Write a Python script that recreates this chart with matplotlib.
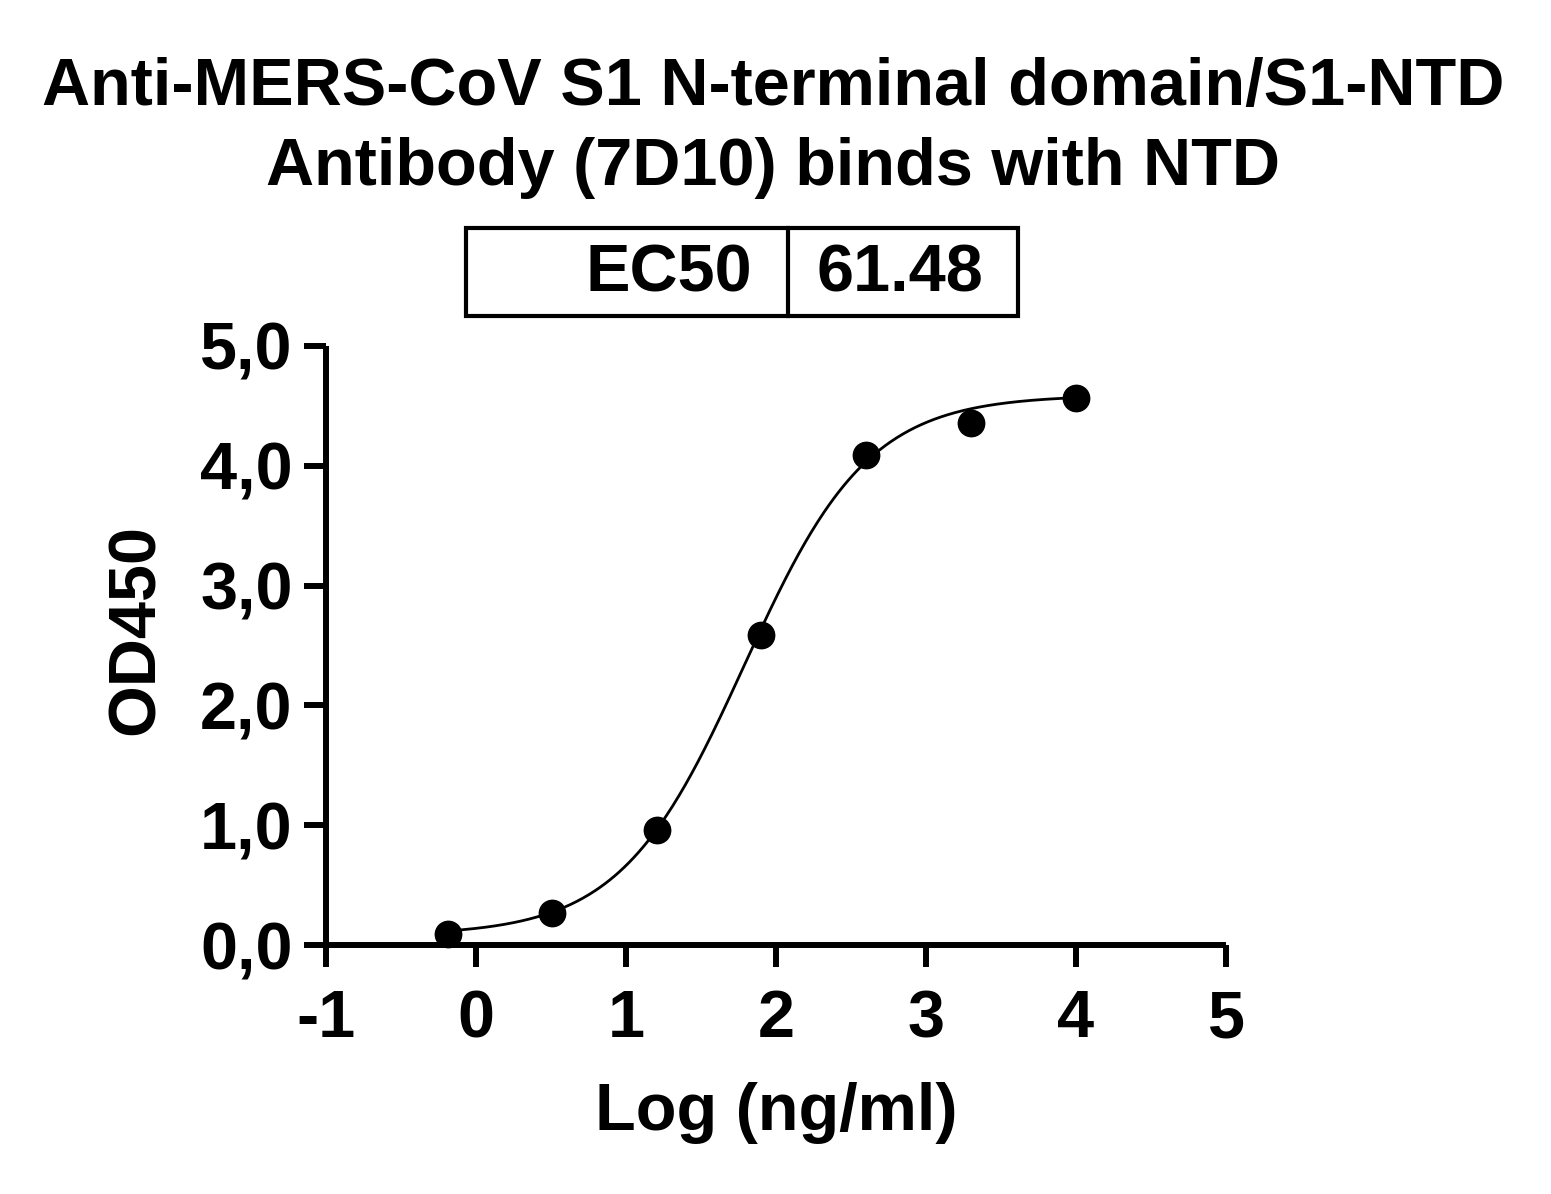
import numpy as np
import matplotlib
matplotlib.use("Agg")
import matplotlib.pyplot as plt
from matplotlib.patches import Rectangle
from matplotlib.lines import Line2D

plt.rcParams['font.family'] = ['Liberation Sans', 'DejaVu Sans']
plt.rcParams['font.weight'] = 'bold'

# Datos
log_conc = [-0.19, 0.505, 1.204, 1.903, 2.602, 3.301, 4.0]
od450 = [0.09, 0.27, 0.96, 2.59, 4.09, 4.36, 4.57]

# Parametros del ajuste 4PL
ec50 = 61.48
bottom, top, hill = 0.08, 4.59, 1.05

x_ticks = [-1, 0, 1, 2, 3, 4, 5]
y_ticks = [0, 1, 2, 3, 4, 5]
y_tick_labels = ["0,0", "1,0", "2,0", "3,0", "4,0", "5,0"]

FS = 48

fig = plt.figure(figsize=(15.51, 11.94), dpi=100)
ax = fig.add_axes([326 / 1551, 1 - 945 / 1194, 900 / 1551, 599 / 1194])

# Curva ajustada
xc = np.linspace(min(log_conc), max(log_conc), 400)
yc = bottom + (top - bottom) / (1 + 10 ** ((np.log10(ec50) - xc) * hill))
ax.plot(xc, yc, color="black", lw=2, zorder=2)
ax.plot(log_conc, od450, "o", color="black", ms=19, zorder=3, clip_on=False)

ax.set_xlim(-1, 5)
ax.set_ylim(0, 5)
ax.set_xticks(x_ticks)
ax.set_xticklabels([str(t) for t in x_ticks])
ax.set_yticks(y_ticks)
ax.set_yticklabels(y_tick_labels)
for s in ["top", "right"]:
    ax.spines[s].set_visible(False)
for s in ["left", "bottom"]:
    ax.spines[s].set_linewidth(4.3)
    ax.spines[s].set_capstyle("butt")
ax.tick_params(axis="both", width=4.3, length=16, labelsize=FS, pad=8)
ax.tick_params(axis="x", pad=16)
for lab in ax.get_xticklabels() + ax.get_yticklabels():
    lab.set_fontweight("bold")

ax.set_xlabel("Log (ng/ml)", fontsize=FS, fontweight="bold")
ax.xaxis.set_label_coords(0.5, -0.228)
ax.set_ylabel("OD450", fontsize=FS, fontweight="bold")
ax.yaxis.set_label_coords(-0.1756, 0.526)

# Titulo
fig.text(0.4985, 1 - 105 / 1194, "Anti-MERS-CoV S1 N-terminal domain/S1-NTD",
         ha="center", va="baseline", fontsize=FS, fontweight="bold")
fig.text(0.4985, 1 - 185 / 1194, "Antibody (7D10) binds with NTD",
         ha="center", va="baseline", fontsize=FS, fontweight="bold")

# Tabla EC50
x0, x1, xm = 466 / 1551, 1018 / 1551, 788 / 1551
y0, y1 = 1 - 316 / 1194, 1 - 228 / 1194
fig.patches.append(Rectangle((x0, y0), x1 - x0, y1 - y0, transform=fig.transFigure,
                             fill=False, lw=3, edgecolor="black"))
fig.lines.append(Line2D([xm, xm], [y0, y1], transform=fig.transFigure, lw=3, color="black"))
fig.text(752 / 1551, 1 - 292 / 1194, "EC50", ha="right", va="baseline",
         fontsize=FS, fontweight="bold")
fig.text(900 / 1551, 1 - 292 / 1194, "61.48", ha="center", va="baseline",
         fontsize=FS, fontweight="bold")

fig.savefig("out.png", dpi=100)
